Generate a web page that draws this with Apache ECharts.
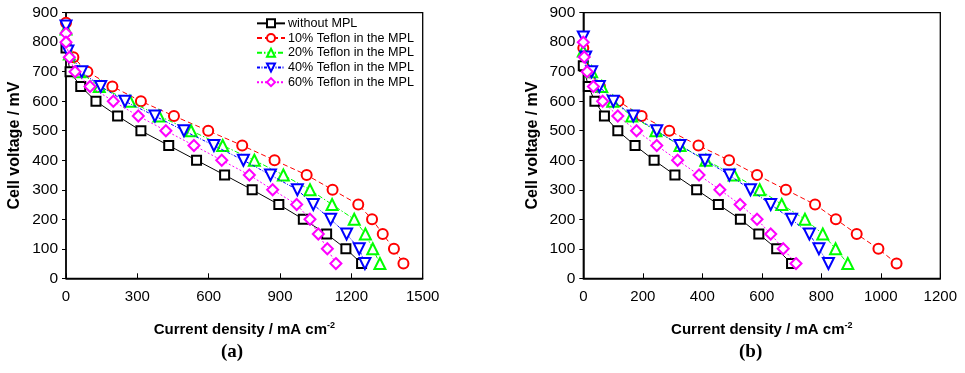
<!DOCTYPE html>
<html>
<head>
<meta charset="utf-8">
<style>
  html, body { margin: 0; padding: 0; background: #fff; }
  #chart { width: 965px; height: 373px; }
</style>
<script src="https://cdn.jsdelivr.net/npm/echarts@6/dist/echarts.min.js"></script>
</head>
<body>
<div id="chart"></div>
<script>
// Polarisation curves: [current density (mA cm-2), cell voltage (mV)]
const seriesNames = [
  'without MPL',
  '10% Teflon in the MPL',
  '20% Teflon in the MPL',
  '40% Teflon in the MPL',
  '60% Teflon in the MPL'
];

// Panel (a)
const a_noMPL = [[0,780],[17,700],[62,650],[126,600],[217,550],[315,500],[432,450],[549,400],[667,350],[783,300],[895,250],[998,200],[1096,150],[1177,100],[1243,50]];
const a_t10 = [[0,866],[31,749],[90,700],[195,650],[315,600],[454,550],[598,500],[741,450],[877,400],[1012,350],[1121,300],[1229,250],[1287,200],[1332,150],[1379,100],[1419,50]];
const a_t20 = [[0,845],[14,760],[56,700],[140,650],[269,600],[391,550],[526,500],[659,450],[792,400],[914,350],[1026,300],[1119,250],[1212,200],[1259,150],[1290,100],[1320,50]];
const a_t40 = [[0,855],[8,770],[66,700],[146,650],[248,600],[374,550],[496,500],[622,450],[746,400],[860,350],[973,300],[1040,250],[1113,200],[1180,150],[1233,100],[1257,50]];
const a_t60 = [[0,830],[0,800],[14,749],[38,700],[101,650],[199,600],[304,550],[420,500],[538,450],[655,400],[771,350],[869,300],[970,250],[1026,200],[1061,150],[1099,100],[1135,50]];

// Panel (b)
const b_noMPL = [[0,720],[17,650],[39,600],[71,550],[116,500],[174,450],[238,400],[308,350],[381,300],[454,250],[528,200],[590,150],[650,100],[700,50]];
const b_t10 = [[0,780],[20,700],[56,650],[118,600],[196,550],[289,500],[387,450],[490,400],[584,350],[681,300],[779,250],[849,200],[919,150],[992,100],[1053,50]];
const b_t20 = [[0,770],[28,700],[62,650],[99,600],[163,550],[244,500],[325,450],[412,400],[507,350],[593,300],[667,250],[745,200],[805,150],[848,100],[889,50]];
const b_t40 = [[0,818],[8,750],[28,700],[54,650],[101,600],[168,550],[247,500],[325,450],[409,400],[491,350],[562,300],[630,250],[700,200],[760,150],[792,100],[824,50]];
const b_t60 = [[0,800],[3,750],[13,700],[34,650],[65,600],[116,550],[179,500],[247,450],[317,400],[389,350],[459,300],[527,250],[584,200],[630,150],[672,100],[715,50]];

// Axis ticks
const voltageTicks = { min: 0, max: 900, step: 100 };
const currentTicksA = { min: 0, max: 1500, step: 300 };
const currentTicksB = { min: 0, max: 1200, step: 200 };

const styles = [
  { color: '#000000', symbol: 'emptyRect', size: 9, rotate: 0, dash: 'solid' },
  { color: '#ff0000', symbol: 'emptyCircle', size: 10, rotate: 0, dash: [5, 3] },
  { color: '#00ff00', symbol: 'emptyTriangle', size: 11, rotate: 0, dash: [5, 2, 1.5, 2] },
  { color: '#0000ff', symbol: 'emptyTriangle', size: 11, rotate: 180, dash: [3, 1.5, 1, 1.5] },
  { color: '#ff00ff', symbol: 'emptyDiamond', size: 11, rotate: 0, dash: [2, 2] }
];

function makeSeries(data, idx, axis) {
  const s = styles[idx];
  return {
    name: seriesNames[idx],
    type: 'line',
    xAxisIndex: axis,
    yAxisIndex: axis,
    data: data,
    symbol: s.symbol,
    symbolSize: s.size,
    symbolRotate: s.rotate,
    showAllSymbol: true,
    animation: false,
    z: 2 + idx,
    lineStyle: { color: s.color, width: 1, type: s.dash },
    itemStyle: { color: s.color, borderColor: s.color, borderWidth: 1.2 },
    emphasis: { disabled: true }
  };
}

const FONT = '"Liberation Sans", Arial, sans-serif';

function xAxisDef(grid, ticks) {
  return {
    type: 'value', gridIndex: grid,
    min: ticks.min, max: ticks.max, interval: ticks.step,
    name: '{t|Current density / mA cm}{s|-2}',
    nameLocation: 'middle', nameGap: 43,
    nameTextStyle: {
      rich: {
        t: { fontFamily: FONT, fontWeight: 'bold', fontSize: 15, color: '#000' },
        s: { fontFamily: FONT, fontWeight: 'bold', fontSize: 9, color: '#000', padding: [0, 0, 9, 0] }
      }
    },
    axisLine: { show: true, lineStyle: { color: '#000', width: 1.5 } },
    axisTick: { show: true, inside: true, length: 5, lineStyle: { color: '#000', width: 1 } },
    axisLabel: { fontFamily: FONT, fontSize: 15, color: '#000', margin: 11, formatter: v => String(v) },
    splitLine: { show: false }
  };
}

function yAxisDef(grid) {
  return {
    type: 'value', gridIndex: grid,
    min: voltageTicks.min, max: voltageTicks.max, interval: voltageTicks.step,
    name: 'Cell voltage / mV',
    nameLocation: 'middle', nameGap: 43, nameRotate: 90,
    nameTextStyle: { fontFamily: FONT, fontWeight: 'bold', fontSize: 16, color: '#000' },
    axisLine: { show: true, lineStyle: { color: '#000', width: 1.5 } },
    axisTick: { show: true, inside: false, length: 4, lineStyle: { color: '#000', width: 1 } },
    axisLabel: { fontFamily: FONT, fontSize: 15.5, color: '#000', margin: 8, formatter: v => String(v) },
    splitLine: { show: false }
  };
}

const chart = echarts.init(document.getElementById('chart'), null, { renderer: 'canvas' });

chart.setOption({
  backgroundColor: '#fff',
  animation: false,
  grid: [
    { left: 66, top: 12.7, width: 356.7, height: 265.6, show: true, borderColor: '#000', borderWidth: 1.3, backgroundColor: 'transparent', containLabel: false, outerBoundsMode: 'none' },
    { left: 583.3, top: 12.7, width: 357, height: 265.6, show: true, borderColor: '#000', borderWidth: 1.3, backgroundColor: 'transparent', containLabel: false, outerBoundsMode: 'none' }
  ],
  xAxis: [xAxisDef(0, currentTicksA), xAxisDef(1, currentTicksB)],
  yAxis: [yAxisDef(0), yAxisDef(1)],
  legend: {
    data: seriesNames,
    orient: 'vertical',
    left: 256, top: 16,
    itemWidth: 28, itemHeight: 10, itemGap: 0,
    padding: 0,
    selectedMode: false,
    textStyle: { fontFamily: FONT, fontSize: 12.6, lineHeight: 14.7, color: '#000', padding: [0, 0, 0, -2] }
  },
  series: [
    makeSeries(a_noMPL, 0, 0), makeSeries(a_t10, 1, 0), makeSeries(a_t20, 2, 0),
    makeSeries(a_t40, 3, 0), makeSeries(a_t60, 4, 0),
    makeSeries(b_noMPL, 0, 1), makeSeries(b_t10, 1, 1), makeSeries(b_t20, 2, 1),
    makeSeries(b_t40, 3, 1), makeSeries(b_t60, 4, 1)
  ],
  graphic: [
    { type: 'text', left: 221, top: 343, style: { text: '(a)', font: 'bold 19px "Liberation Serif", "DejaVu Serif", serif', fill: '#000' } },
    { type: 'text', left: 739, top: 343, style: { text: '(b)', font: 'bold 19px "Liberation Serif", "DejaVu Serif", serif', fill: '#000' } }
  ]
});
</script>
</body>
</html>
